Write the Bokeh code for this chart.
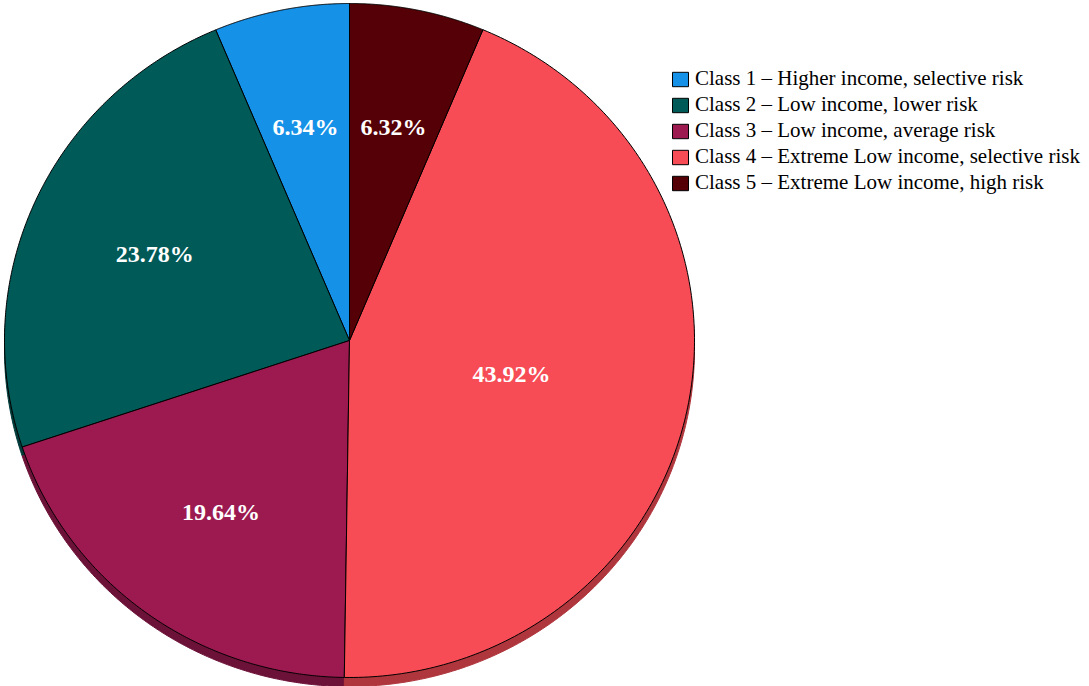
import numpy as np
from bokeh.plotting import figure
from bokeh.models import ColumnDataSource, Range1d, Legend, LegendItem
from bokeh.core.properties import value
from bokeh.embed import file_html
from bokeh.resources import INLINE

# ---- data ----
classes = [
    "Class 1 \u2013 Higher income, selective risk",
    "Class 2 \u2013 Low income, lower risk",
    "Class 3 \u2013 Low income, average risk",
    "Class 4 \u2013 Extreme Low income, selective risk",
    "Class 5 \u2013 Extreme Low income, high risk",
]
percents = [6.34, 23.78, 19.64, 43.92, 6.32]
pct_labels = ["6.34%", "23.78%", "19.64%", "43.92%", "6.32%"]

# ---- style ----
FONT = "Times New Roman"
colors = ["#1591E8", "#005A58", "#9C1A50", "#F74B55", "#540006"]
shadow_colors = ["#0E5F99", "#003B3A", "#6C1238", "#B0363D", "#380004"]
label_rf = [0.645, 0.62, 0.63, 0.48, 0.645]

W, H = 1089, 686
cx, cy = 349, H - 340
rx, ry = 345, 337
depth = 9

vals = np.array(percents, dtype=float)
frac = vals / vals.sum()
cum = np.concatenate([[0], np.cumsum(frac)])
starts = np.pi / 2 + cum[:-1] * 2 * np.pi
ends = np.pi / 2 + cum[1:] * 2 * np.pi


def slice_xy(a0, a1, yc):
    t = np.linspace(a0, a1, 200)
    xs = np.concatenate([[cx], cx + rx * np.cos(t)])
    ys = np.concatenate([[yc], yc + ry * np.sin(t)])
    return list(xs), list(ys)


top_x, top_y, sh_x, sh_y = [], [], [], []
for a0, a1 in zip(starts, ends):
    xs, ys = slice_xy(a0, a1, cy)
    top_x.append(xs); top_y.append(ys)
    xs2, ys2 = slice_xy(a0, a1, cy - depth)
    sh_x.append(xs2); sh_y.append(ys2)

mids = (starts + ends) / 2
lx = [cx + rf * rx * np.cos(m) for rf, m in zip(label_rf, mids)]
ly = [cy + rf * ry * np.sin(m) for rf, m in zip(label_rf, mids)]

p = figure(width=W, height=H, x_range=Range1d(0, W), y_range=Range1d(0, H),
           output_backend="svg", toolbar_location=None, min_border=0)
p.axis.visible = False
p.grid.visible = False
p.outline_line_color = None
p.background_fill_color = "white"

p.patches(xs=sh_x, ys=sh_y, fill_color=shadow_colors, line_color=shadow_colors, line_width=1)
src = ColumnDataSource(dict(xs=top_x, ys=top_y, color=colors, name=classes))
r = p.patches(xs="xs", ys="ys", fill_color="color", line_color="black", line_width=1, source=src)

p.text(x=lx, y=ly, text=pct_labels, text_color="white", text_font=value(FONT),
       text_font_style="bold", text_font_size="24px", text_align="center", text_baseline="middle")

items = [LegendItem(label=c, renderers=[r], index=i) for i, c in enumerate(classes)]
legend = Legend(items=items, location=(670, 491), padding=0, margin=0,
                spacing=1, glyph_width=20, glyph_height=18, label_height=20,
                label_standoff=5, label_text_font=FONT,
                label_text_font_size="21px", label_text_color="black",
                border_line_color=None, background_fill_alpha=0)
p.add_layout(legend, "center")

open("out.html", "w").write(file_html(p, INLINE))
